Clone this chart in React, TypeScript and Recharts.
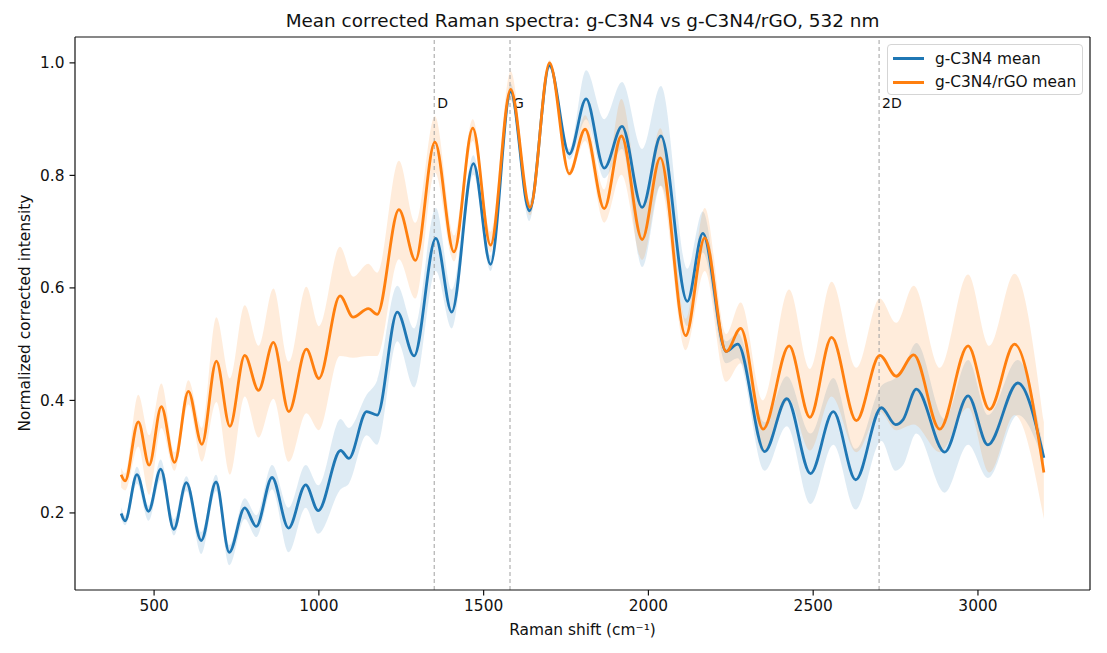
import React from 'react';
import {
  ComposedChart,
  Line,
  Area,
  XAxis,
  YAxis,
  ReferenceLine,
  Legend,
} from 'recharts';

// ---------- data ----------
const X_TICKS = [500, 1000, 1500, 2000, 2500, 3000];
const Y_TICKS = [0.2, 0.4, 0.6, 0.8, 1.0];

const BAND_LINES = [
  { x: 1350, label: 'D' },
  { x: 1580, label: 'G' },
  { x: 2700, label: '2D' },
];

// g-C3N4
const BLUE_X = [
  400, 412, 448, 483, 520, 560, 598, 643, 688, 728, 775, 810, 858, 908, 960, 998,
  1066, 1091, 1145, 1177, 1238, 1289, 1355, 1403, 1469, 1521, 1582, 1639, 1700,
  1760, 1811, 1866, 1920, 1981, 2038, 2118, 2165, 2236, 2271, 2353, 2420, 2492,
  2561, 2629, 2707, 2750, 2773, 2813, 2899, 2970, 3030, 3121, 3200,
];
const BLUE_MEAN = [
  0.199, 0.186, 0.268, 0.203, 0.278, 0.171, 0.254, 0.151, 0.255, 0.13, 0.209, 0.176,
  0.263, 0.173, 0.25, 0.204, 0.311, 0.297, 0.38, 0.374, 0.557, 0.479, 0.688, 0.557,
  0.821, 0.642, 0.949, 0.737, 0.995, 0.838, 0.936, 0.813, 0.887, 0.743, 0.87, 0.576,
  0.697, 0.487, 0.5, 0.309, 0.403, 0.27, 0.38, 0.259, 0.387, 0.357, 0.366, 0.42,
  0.308, 0.408, 0.321, 0.431, 0.298,
];
const BLUE_LO = [
  0.19, 0.178, 0.252, 0.186, 0.259, 0.16, 0.239, 0.127, 0.239, 0.107, 0.189, 0.157,
  0.242, 0.13, 0.209, 0.163, 0.242, 0.252, 0.338, 0.321, 0.505, 0.423, 0.63, 0.528,
  0.801, 0.63, 0.936, 0.719, 0.99, 0.828, 0.9, 0.795, 0.847, 0.637, 0.782, 0.532,
  0.663, 0.466, 0.475, 0.275, 0.354, 0.216, 0.321, 0.206, 0.328, 0.275, 0.285, 0.341,
  0.236, 0.321, 0.262, 0.374, 0.29,
];
const BLUE_HI = [
  0.21, 0.195, 0.282, 0.213, 0.295, 0.189, 0.265, 0.166, 0.268, 0.143, 0.226, 0.196,
  0.285, 0.209, 0.285, 0.249, 0.367, 0.351, 0.41, 0.436, 0.604, 0.528, 0.742, 0.597,
  0.836, 0.657, 0.963, 0.752, 1.0, 0.847, 0.987, 0.9, 0.966, 0.847, 0.959, 0.634,
  0.736, 0.505, 0.52, 0.361, 0.443, 0.341, 0.44, 0.314, 0.426, 0.44, 0.455, 0.502,
  0.367, 0.472, 0.374, 0.472, 0.31,
];

// g-C3N4/rGO
const ORANGE_X = [
  400, 412, 452, 485, 522, 562, 604, 645, 689, 730, 775, 817, 862, 909, 962, 1000,
  1064, 1104, 1150, 1177, 1243, 1293, 1352, 1410, 1467, 1521, 1582, 1641, 1700,
  1760, 1808, 1866, 1918, 1981, 2036, 2113, 2171, 2236, 2280, 2348, 2427, 2490,
  2556, 2631, 2702, 2752, 2805, 2884, 2970, 3035, 3111, 3200,
];
const ORANGE_MEAN = [
  0.268, 0.257, 0.362, 0.285, 0.389, 0.29, 0.416, 0.322, 0.47, 0.354, 0.48, 0.418,
  0.503, 0.38, 0.491, 0.439, 0.586, 0.548, 0.563, 0.553, 0.739, 0.649, 0.859, 0.664,
  0.884, 0.676, 0.953, 0.743, 1.0, 0.803, 0.882, 0.741, 0.87, 0.686, 0.831, 0.515,
  0.689, 0.487, 0.528, 0.349, 0.497, 0.37, 0.512, 0.364, 0.48, 0.443, 0.481, 0.349,
  0.497, 0.384, 0.5, 0.272,
];
const ORANGE_LO = [
  0.245, 0.24, 0.318, 0.232, 0.351, 0.275, 0.393, 0.291, 0.397, 0.268, 0.407, 0.334,
  0.403, 0.291, 0.377, 0.347, 0.479, 0.476, 0.479, 0.479, 0.651, 0.581, 0.805, 0.647,
  0.861, 0.663, 0.933, 0.729, 0.99, 0.798, 0.861, 0.716, 0.801, 0.65, 0.782, 0.489,
  0.63, 0.433, 0.466, 0.308, 0.4, 0.311, 0.407, 0.308, 0.38, 0.347, 0.357, 0.308,
  0.387, 0.272, 0.374, 0.189,
];
const ORANGE_HI = [
  0.28, 0.27, 0.41, 0.338, 0.43, 0.308, 0.436, 0.351, 0.548, 0.439, 0.569, 0.497,
  0.599, 0.469, 0.602, 0.532, 0.673, 0.62, 0.643, 0.627, 0.826, 0.716, 0.905, 0.693,
  0.9, 0.7, 0.985, 0.755, 1.005, 0.811, 0.907, 0.775, 0.936, 0.742, 0.884, 0.545,
  0.742, 0.518, 0.574, 0.4, 0.597, 0.456, 0.611, 0.458, 0.581, 0.538, 0.604, 0.458,
  0.624, 0.497, 0.625, 0.361,
];

const SERIES_NAMES = ['g-C3N4 mean', 'g-C3N4/rGO mean'];
const COLORS = ['#1f77b4', '#ff7f0e'];

// ---------- derived tables ----------
const blueData = BLUE_X.map((x, i) => ({
  x,
  mean: BLUE_MEAN[i],
  band: [BLUE_LO[i], BLUE_HI[i]],
}));
const orangeData = ORANGE_X.map((x, i) => ({
  x,
  mean: ORANGE_MEAN[i],
  band: [ORANGE_LO[i], ORANGE_HI[i]],
}));

const X_DOMAIN: [number, number] = [260, 3340];
const Y_DOMAIN: [number, number] = [0.063, 1.046];

const FONT = 'DejaVu Sans, Verdana, sans-serif';
const INK = '#111';
const FS = 15.4;

const BandLabel = (props: any) => {
  const vb = props.viewBox || {};
  return (
    <text
      x={(vb.x || 0) + 3}
      y={(vb.y || 0) + 71}
      fontSize={14}
      fontFamily={FONT}
      fill={INK}
    >
      {props.text}
    </text>
  );
};

const LegendBox = () => (
  <div
    style={{
      width: 196,
      height: 51,
      border: '1px solid #d5d5d5',
      borderRadius: 4,
      background: 'rgba(255,255,255,0.8)',
      fontFamily: FONT,
      fontSize: FS,
      color: INK,
      boxSizing: 'border-box',
      paddingTop: 2,
    }}
  >
    {SERIES_NAMES.map((n, i) => (
      <div key={n} style={{ display: 'flex', alignItems: 'center', height: 23.5 }}>
        <div
          style={{
            width: 31,
            height: 2.8,
            background: COLORS[i],
            marginLeft: 5,
            marginRight: 11,
          }}
        />
        <span style={{ whiteSpace: 'nowrap' }}>{n}</span>
      </div>
    ))}
  </div>
);

export default function App() {
  return (
    <div
      style={{
        position: 'absolute',
        left: 0,
        top: 0,
        width: 1107,
        height: 653,
        background: '#fff',
        fontFamily: FONT,
      }}
    >
      <ComposedChart
        width={1107}
        height={653}
        margin={{ top: 37, right: 17, left: 0, bottom: 0 }}
      >
        <XAxis
          dataKey="x"
          type="number"
          domain={X_DOMAIN}
          allowDataOverflow
          ticks={X_TICKS}
          height={63}
          tickSize={5.5}
          tickMargin={5}
          tick={{ fontSize: FS, fill: INK, fontFamily: FONT }}
          axisLine={{ stroke: INK, strokeWidth: 1.2 }}
          tickLine={{ stroke: INK, strokeWidth: 1.2 }}
        />
        <YAxis
          type="number"
          domain={Y_DOMAIN}
          allowDataOverflow
          ticks={Y_TICKS}
          width={75}
          tickSize={5.5}
          tickMargin={5}
          tickFormatter={(v: number) => v.toFixed(1)}
          tick={{ fontSize: FS, fill: INK, fontFamily: FONT }}
          axisLine={{ stroke: INK, strokeWidth: 1.2 }}
          tickLine={{ stroke: INK, strokeWidth: 1.2 }}
        />
        <ReferenceLine y={Y_DOMAIN[1]} stroke={INK} strokeWidth={1.2} />
        <ReferenceLine x={X_DOMAIN[1]} stroke={INK} strokeWidth={1.2} />

        <Area
          data={blueData}
          dataKey="band"
          type="monotone"
          stroke="none"
          fill={COLORS[0]}
          fillOpacity={0.15}
          isAnimationActive={false}
          dot={false}
          activeDot={false}
          legendType="none"
        />
        <Area
          data={orangeData}
          dataKey="band"
          type="monotone"
          stroke="none"
          fill={COLORS[1]}
          fillOpacity={0.15}
          isAnimationActive={false}
          dot={false}
          activeDot={false}
          legendType="none"
        />

        {BAND_LINES.map((b) => (
          <ReferenceLine
            key={b.label}
            x={b.x}
            stroke="#a0a0a0"
            strokeWidth={1}
            strokeDasharray="4 3"
            label={<BandLabel text={b.label} />}
          />
        ))}

        <Line
          data={blueData}
          dataKey="mean"
          name={SERIES_NAMES[0]}
          type="monotone"
          stroke={COLORS[0]}
          strokeWidth={2.8}
          dot={false}
          activeDot={false}
          isAnimationActive={false}
        />
        <Line
          data={orangeData}
          dataKey="mean"
          name={SERIES_NAMES[1]}
          type="monotone"
          stroke={COLORS[1]}
          strokeWidth={2.8}
          dot={false}
          activeDot={false}
          isAnimationActive={false}
        />
        <Legend
          layout="vertical"
          align="center"
          verticalAlign="middle"
          content={<LegendBox />}
          wrapperStyle={{ left: 887, top: 44, width: 196, height: 51 }}
        />
      </ComposedChart>

      <div
        style={{
          position: 'absolute',
          left: 75,
          width: 1015,
          top: 9,
          textAlign: 'center',
          fontSize: 18.4,
          color: INK,
          lineHeight: '24px',
          whiteSpace: 'nowrap',
        }}
      >
        Mean corrected Raman spectra: g-C3N4 vs g-C3N4/rGO, 532 nm
      </div>
      <div
        style={{
          position: 'absolute',
          left: 75,
          width: 1015,
          top: 619,
          textAlign: 'center',
          fontSize: FS,
          color: INK,
          lineHeight: '22px',
        }}
      >
        Raman shift (cm⁻¹)
      </div>
      <div
        style={{
          position: 'absolute',
          left: 25 - 150,
          top: 313 - 11,
          width: 300,
          height: 22,
          lineHeight: '22px',
          textAlign: 'center',
          fontSize: FS,
          color: INK,
          transform: 'rotate(-90deg)',
        }}
      >
        Normalized corrected intensity
      </div>
    </div>
  );
}
